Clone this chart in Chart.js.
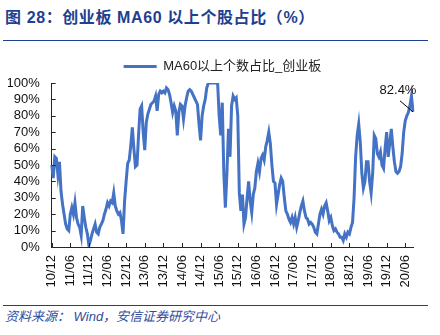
<!DOCTYPE html>
<html>
<head>
<meta charset="utf-8">
<script src="https://cdn.jsdelivr.net/npm/chart.js@4.4.1/dist/chart.umd.min.js"></script>
<style>
  body { margin: 0; width: 440px; height: 335px; background: #fff; position: relative; overflow: hidden;
         font-family: Arial, "Liberation Sans", "Noto Sans CJK SC", sans-serif; }
  #title { position: absolute; left: 5px; top: 8px; line-height: 20px; font-size: 16px; font-weight: bold;
           color: #1F3F8F; letter-spacing: 0.6px; white-space: nowrap; }
  .rule { position: absolute; left: 3px; width: 425px; height: 0; border-top: 1px solid #1F3F8F; }
  #chart-box { position: absolute; left: 0; top: 50px; width: 440px; height: 237px; }
  #source { position: absolute; left: 5px; top: 309px; line-height: 16px; font-size: 13px; font-style: italic;
            color: #2F4D9E; white-space: nowrap; }
</style>
</head>
<body>
<div id="title">图 28：创业板 MA60 以上个股占比（%）</div>
<div class="rule" style="top:40px"></div>
<div id="chart-box"><canvas id="ma60Chart"></canvas></div>
<div class="rule" style="top:305px"></div>
<div id="source">资料来源： Wind，安信证券研究中心</div>

<script>
// semi-monthly readings, starting with the first half of 2010-12
const startYear = 2010;
const startMonth = 12;
const seriesName = 'MA60以上个数占比_创业板';
const tickLabels = ['10/12', '11/06', '11/12', '12/06', '12/12', '13/06', '13/12', '14/06', '14/12', '15/06',
                    '15/12', '16/06', '16/12', '17/06', '17/12', '18/06', '18/12', '19/06', '19/12', '20/06'];
const ratio = [
    50, 42, 55, 54, 44, 52, 34, 26, 20, 14, 11, 10,
    20, 24, 20, 27, 18, 14, 12, 7, 25, 18, 12, 8,
    1, 4, 8, 11, 14, 9, 8, 12, 14, 16, 20, 23,
    27, 25, 28, 27, 33, 25, 22, 20, 21, 16, 8, 28,
    40, 51, 53, 62, 73, 60, 49, 50, 68, 84, 86, 70,
    59, 76, 81, 84, 87, 88, 89, 92, 83, 93, 95, 94,
    95, 94, 97, 96, 93, 88, 82, 86, 83, 68, 82, 87,
    86, 78, 86, 91, 95, 96, 95, 93, 91, 89, 87, 75,
    65, 80, 86, 90, 97, 100, 100, 100, 100, 100, 100, 100,
    80, 68, 88, 45, 24, 45, 72, 55, 86, 92, 90, 91,
    80, 33, 22, 32, 14, 18, 30, 40, 28, 21, 32, 36,
    46, 51, 46, 54, 56, 53, 61, 65, 70, 63, 50, 40,
    39, 26, 32, 38, 42, 40, 30, 22, 20, 17, 15, 18,
    14, 18, 12, 16, 21, 25, 28, 22, 18, 17, 14, 15,
    14, 12, 9, 8, 14, 20, 23, 20, 25, 27, 22, 16,
    18, 13, 10, 11, 9, 8, 6, 6, 4, 8, 6, 9,
    8, 12, 15, 30, 55, 68, 75, 64, 45, 36, 40, 52,
    52, 40, 33, 45, 68, 66, 57, 55, 58, 50, 48, 60,
    70, 55, 63, 72, 61, 52, 46, 45, 46, 49, 57, 70,
    77, 80, 82, 86, 92, 82.4
];

const labels = ratio.map((v, i) => {
    const m = startMonth - 1 + Math.floor(i / 2);
    const yy = String(startYear + Math.floor(m / 12)).slice(2);
    const mm = String(m % 12 + 1).padStart(2, '0');
    return yy + '/' + mm;
});
const shown = i => i % 2 === 0 && tickLabels.includes(labels[i]);

const axisColor = '#262626';
const fontFamily = 'Arial, "Liberation Sans", "Noto Sans CJK SC", sans-serif';

// Excel-style tick marks pointing into the plot
const innerTicks = {
    id: 'innerTicks',
    afterDraw(chart) {
        const { ctx, chartArea, scales: { x, y } } = chart;
        ctx.save();
        ctx.strokeStyle = axisColor;
        ctx.lineWidth = 1;
        ctx.beginPath();
        y.ticks.forEach(t => {
            const py = Math.round(y.getPixelForValue(t.value)) + 0.5;
            ctx.moveTo(chartArea.left, py);
            ctx.lineTo(chartArea.left + 4, py);
        });
        labels.forEach((l, i) => {
            if (!shown(i)) return;
            const px = Math.round(x.getPixelForValue(i)) + 0.5;
            ctx.moveTo(px, chartArea.bottom);
            ctx.lineTo(px, chartArea.bottom - 4);
        });
        ctx.stroke();
        ctx.restore();
    }
};

// nudge the legend a little right of the canvas centre
const legendShift = {
    id: 'legendShift',
    afterLayout(chart) {
        chart.legend.left += 12;
        chart.legend.right += 12;
    }
};

// callout for the latest reading
const lastValue = {
    id: 'lastValue',
    afterDatasetsDraw(chart) {
        const { ctx } = chart;
        const pts = chart.getDatasetMeta(0).data;
        const p = pts[pts.length - 1];
        ctx.save();
        ctx.strokeStyle = '#000';
        ctx.lineWidth = 1;
        ctx.beginPath();
        ctx.moveTo(p.x - 13, p.y - 11);
        ctx.lineTo(p.x, p.y);
        ctx.stroke();
        ctx.fillStyle = '#111';
        ctx.font = '13px ' + fontFamily;
        ctx.textAlign = 'center';
        ctx.textBaseline = 'middle';
        ctx.fillText(ratio[ratio.length - 1].toFixed(1) + '%', p.x - 15, p.y - 21);
        ctx.restore();
    }
};

new Chart(document.getElementById('ma60Chart'), {
    type: 'line',
    data: {
        labels: labels,
        datasets: [{
            label: seriesName,
            data: ratio,
            borderColor: '#4472C4',
            backgroundColor: '#4472C4',
            borderWidth: 3,
            pointRadius: 0,
            tension: 0
        }]
    },
    options: {
        responsive: true,
        maintainAspectRatio: false,
        animation: false,
        devicePixelRatio: 1,
        layout: { padding: { left: 8, right: 27, top: 0, bottom: 0 } },
        plugins: {
            legend: {
                labels: {
                    usePointStyle: true,
                    pointStyle: 'line',
                    pointStyleWidth: 33,
                    color: '#222',
                    font: { size: 13, family: fontFamily },
                    padding: 10
                }
            },
            tooltip: { enabled: false }
        },
        scales: {
            x: {
                offset: false,
                grid: { display: false, drawTicks: false },
                border: { display: true, color: axisColor, width: 1 },
                afterFit: s => { s.height = 40; },
                ticks: {
                    autoSkip: false,
                    maxRotation: 90,
                    minRotation: 90,
                    padding: 8,
                    color: '#111',
                    font: { size: 13, family: fontFamily },
                    callback: (v, i) => shown(i) ? labels[i] : null
                }
            },
            y: {
                min: 0,
                max: 100,
                grid: { display: false, drawTicks: false },
                border: { display: true, color: axisColor, width: 1 },
                afterFit: s => { s.width = 43.7; },
                ticks: {
                    autoSkip: false,
                    stepSize: 10,
                    padding: 12,
                    color: '#111',
                    font: { size: 13, family: fontFamily },
                    callback: v => v + '%'
                }
            }
        }
    },
    plugins: [innerTicks, legendShift, lastValue]
});
</script>
</body>
</html>
